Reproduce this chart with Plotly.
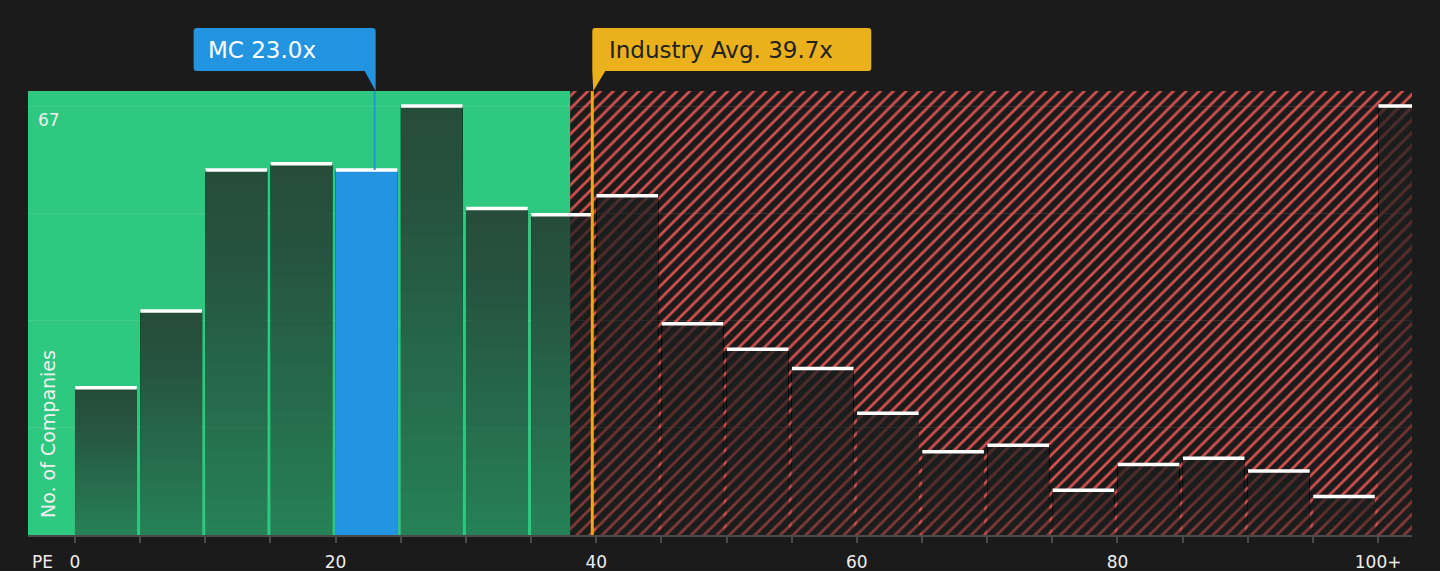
import plotly.graph_objects as go

# PE distribution of the industry, bins of 5x, last bin is 100+
pe_bins = [0, 5, 10, 15, 20, 25, 30, 35, 40, 45, 50, 55, 60, 65, 70, 75, 80, 85, 90, 95, 100]
companies = [23, 35, 57, 58, 57, 67, 51, 50, 53, 33, 29, 26, 19, 13, 14, 7, 11, 12, 10, 6, 67]
tick_vals = [0, 20, 40, 60, 80, 100]
tick_labels = ['0', '20', '40', '60', '80', '100+']
company_name = 'MC'
company_pe = 23.0
industry_avg = 39.7
fair_upper = 38.0

BG = '#1b1b1b'
GREEN = '#2ec880'
BLUE = '#2394e0'
YELLOW = '#ebb11c'
RED = '#d45050'
FONT = 'DejaVu Sans'

BAR_W = 4.77
X_RANGE = [-3.6, 102.6]
top = max(companies)
Y_RANGE = [0, top * 1.035]

centers = [b + BAR_W / 2 for b in pe_bins]
fig = go.Figure()

# hatched "expensive" zone
fig.add_trace(go.Bar(
    x=[fair_upper + 100], y=[Y_RANGE[1]], width=[200],
    marker=dict(color='rgba(0,0,0,0)', line_width=0,
                pattern=dict(shape='/', fgcolor=RED, fgopacity=1, bgcolor='rgba(0,0,0,0)',
                             size=9, solidity=0.3, fillmode='overlay')),
    hoverinfo='skip', showlegend=False))

# bars, darker at the top (stacked translucent layers)
fig.add_trace(go.Bar(
    x=centers, y=companies, width=BAR_W,
    marker=dict(color='rgba(28,30,30,0.42)', line_width=0),
    hoverinfo='skip', showlegend=False))
n_layers = 30
for k in range(1, n_layers):
    fig.add_trace(go.Bar(
        x=centers, y=[v * (1 - k / n_layers) for v in companies],
        base=[v * k / n_layers for v in companies], width=BAR_W,
        marker=dict(color='rgba(28,30,30,0.0225)', line_width=0),
        hoverinfo='skip', showlegend=False))

# company bin in blue
i_mc = int(company_pe // 5)
fig.add_trace(go.Bar(
    x=[centers[i_mc]], y=[companies[i_mc]], width=BAR_W,
    marker=dict(color=BLUE, line_width=0),
    hoverinfo='skip', showlegend=False))

# white caps on top of bars
fig.add_trace(go.Scatter(
    x=centers, y=companies, mode='markers',
    marker=dict(symbol='line-ew', size=44, line=dict(color='white', width=3.5)),
    hoverinfo='skip', showlegend=False, cliponaxis=True))

shapes = [
    dict(type='rect', xref='x', yref='paper', x0=X_RANGE[0], x1=fair_upper, y0=0, y1=1,
         fillcolor=GREEN, line_width=0, layer='below'),
    dict(type='line', xref='x', yref='y', x0=company_pe, x1=company_pe,
         y0=companies[i_mc], y1=Y_RANGE[1], line=dict(color=BLUE, width=2)),
    dict(type='line', xref='x', yref='paper', x0=industry_avg, x1=industry_avg,
         y0=0, y1=1, line=dict(color='#eba91e', width=3)),
    dict(type='path', xref='x', yref='paper', xsizemode='pixel', ysizemode='pixel',
         xanchor=company_pe, yanchor=1,
         path='M -178,63 L -2,63 Q 1,63 1,60 L 1,0 L -10,20 L -178,20 '
              'Q -181,20 -181,23 L -181,60 Q -181,63 -178,63 Z',
         fillcolor=BLUE, line_width=0),
    dict(type='path', xref='x', yref='paper', xsizemode='pixel', ysizemode='pixel',
         xanchor=industry_avg, yanchor=1,
         path='M 3,63 L 276,63 Q 279,63 279,60 L 279,23 Q 279,20 276,20 L 13,20 '
              'L 1,0 L 0,20 L 0,60 Q 0,63 3,63 Z',
         fillcolor=YELLOW, line_width=0),
]

annotations = [
    dict(text=f'{company_name} {company_pe:.1f}x', xref='x', x=company_pe, xanchor='left',
         xshift=-169, yref='paper', y=1, yanchor='middle', yshift=41, showarrow=False,
         font=dict(family=FONT, size=23, color='white')),
    dict(text=f'Industry Avg. {industry_avg:.1f}x', xref='x', x=industry_avg,
         xanchor='left', xshift=15, yref='paper', y=1, yanchor='middle', yshift=41,
         showarrow=False, font=dict(family=FONT, size=23, color='#222222')),
    dict(text=str(top), xref='paper', x=0, xshift=8, xanchor='left', yref='y', y=top,
         yanchor='middle', yshift=-14, showarrow=False,
         font=dict(family=FONT, size=17, color='#eeeeee')),
    dict(text='No. of Companies', textangle=-90, xref='paper', x=0, xshift=20,
         xanchor='center', yref='paper', y=0, yanchor='bottom', yshift=15,
         showarrow=False, font=dict(family=FONT, size=19, color='#eeeeee')),
    dict(text='PE', xref='paper', x=0, xshift=14, xanchor='center', yref='paper', y=0,
         yanchor='middle', yshift=-27, showarrow=False,
         font=dict(family=FONT, size=17, color='#eeeeee')),
]

fig.update_layout(
    width=1440, height=571,
    margin=dict(l=28, r=28, t=91, b=36),
    paper_bgcolor=BG, plot_bgcolor=BG,
    barmode='overlay', showlegend=False,
    shapes=shapes, annotations=annotations,
    font=dict(family=FONT, size=17, color='#eeeeee'),
)
fig.update_xaxes(
    range=X_RANGE, showgrid=False, zeroline=False, automargin=False,
    showline=True, linecolor='#4a4a4a', linewidth=2,
    ticks='outside', ticklen=6, tickwidth=1.5, tickcolor='#4a4a4a',
    tickvals=pe_bins,
    ticktext=[tick_labels[tick_vals.index(b)] if b in tick_vals else '' for b in pe_bins],
    ticklabelstandoff=5,
    tickfont=dict(family=FONT, size=17, color='#eeeeee'),
)
fig.update_yaxes(
    range=Y_RANGE, showticklabels=False, zeroline=False, automargin=False,
    tickvals=[top * i / 4 for i in range(5)],
    gridcolor='rgba(255,255,255,0.1)', gridwidth=1,
)

fig.write_html('out.html', config={'displayModeBar': False},
               post_script="document.body.style.margin='0';")
